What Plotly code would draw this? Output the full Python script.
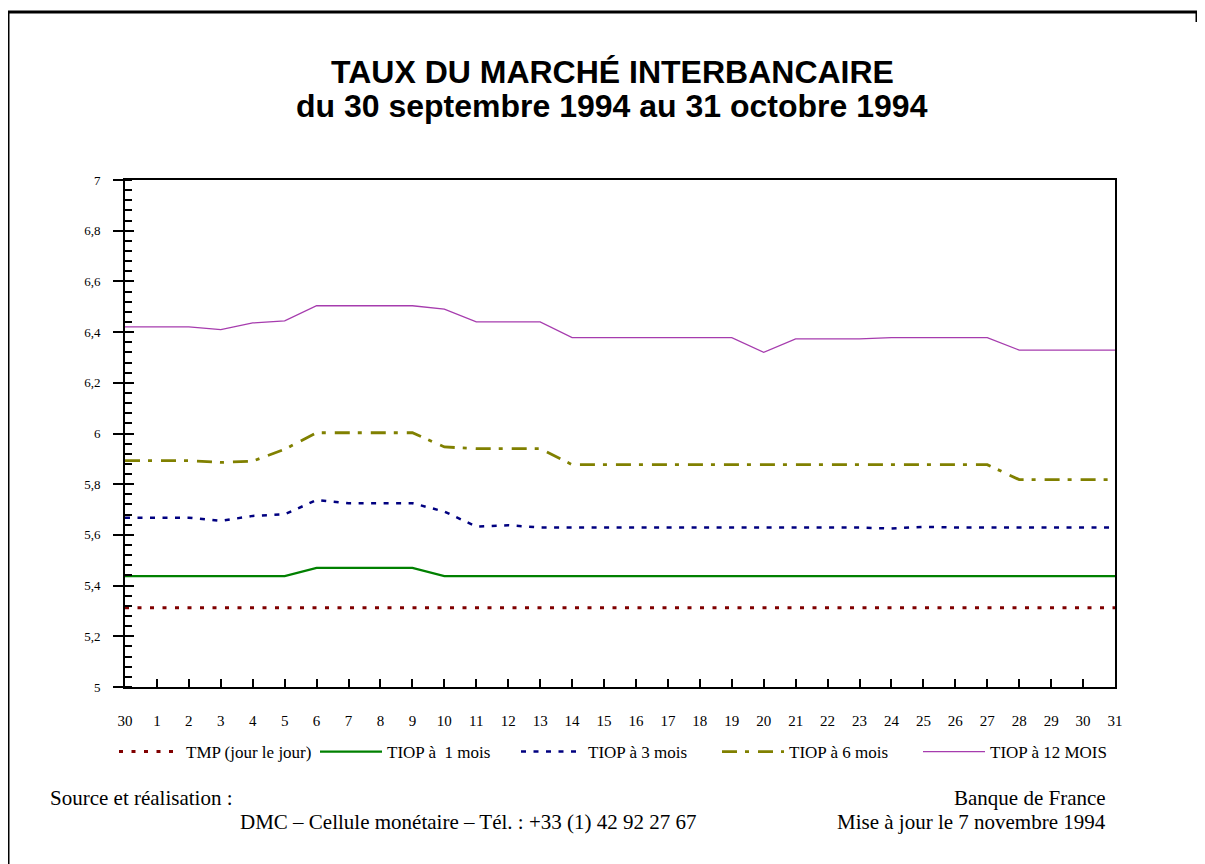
import plotly.graph_objects as go

# ---------------- data ----------------
day_labels = ["30", "1", "2", "3", "4", "5", "6", "7", "8", "9", "10", "11", "12", "13", "14", "15",
              "16", "17", "18", "19", "20", "21", "22", "23", "24", "25", "26", "27", "28", "29", "30", "31"]

tmp_jj = [5.3125, 5.3125, 5.3125, 5.3125, 5.3125, 5.3125, 5.3125, 5.3125, 5.3125, 5.3125, 5.3125,
          5.3125, 5.3125, 5.3125, 5.3125, 5.3125, 5.3125, 5.3125, 5.3125, 5.3125, 5.3125, 5.3125,
          5.3125, 5.3125, 5.3125, 5.3125, 5.3125, 5.3125, 5.3125, 5.3125, 5.3125, 5.3125]

tiop_1m = [5.4375, 5.4375, 5.4375, 5.4375, 5.4375, 5.4375, 5.47, 5.47, 5.47, 5.47, 5.4375,
           5.4375, 5.4375, 5.4375, 5.4375, 5.4375, 5.4375, 5.4375, 5.4375, 5.4375, 5.4375, 5.4375,
           5.4375, 5.4375, 5.4375, 5.4375, 5.4375, 5.4375, 5.4375, 5.4375, 5.4375, 5.4375]

tiop_3m = [5.668, 5.668, 5.668, 5.655, 5.675, 5.681, 5.738, 5.725, 5.725, 5.725, 5.692,
           5.633, 5.638, 5.629, 5.629, 5.629, 5.629, 5.629, 5.629, 5.629, 5.629, 5.629,
           5.629, 5.629, 5.625, 5.632, 5.629, 5.629, 5.629, 5.629, 5.629, 5.629]

tiop_6m = [5.893, 5.893, 5.893, 5.886, 5.891, 5.938, 6.003, 6.003, 6.003, 6.003, 5.947,
           5.94, 5.94, 5.94, 5.877, 5.877, 5.877, 5.877, 5.877, 5.877, 5.877, 5.877,
           5.877, 5.877, 5.877, 5.877, 5.877, 5.877, 5.818, 5.818, 5.818, 5.818]

tiop_12m = [6.421, 6.421, 6.421, 6.41, 6.436, 6.444, 6.504, 6.504, 6.504, 6.504, 6.491,
            6.44, 6.44, 6.44, 6.378, 6.378, 6.378, 6.378, 6.378, 6.378, 6.32, 6.373,
            6.373, 6.373, 6.378, 6.378, 6.378, 6.378, 6.329, 6.329, 6.329, 6.329]

series_names = ["TMP (jour le jour)", "TIOP à  1 mois", "TIOP à 3 mois", "TIOP à 6 mois", "TIOP à 12 MOIS"]

x_idx = list(range(len(day_labels)))

# ---------------- layout geometry ----------------
OFF = 8                      # page body margin in the browser
W, H = 1197, 856
# plot area in screen pixels
SL, SR, ST, SB = 125, 1115, 180, 687
PL, PR, PT, PB = SL - OFF, SR - OFF, ST - OFF, SB - OFF


def px(x):
    """screen x pixel -> paper coordinate"""
    return (x - SL) / (SR - SL)


def py(y):
    """screen y pixel -> paper coordinate"""
    return (SB - y) / (SB - ST)


SERIF = "Liberation Serif, Times New Roman, serif"
SANS = "Liberation Sans, Arial, sans-serif"

fig = go.Figure()

styles = [
    dict(color="#800000", width=3, dash="4px,8.5px"),
    dict(color="#008000", width=2.2, dash="solid"),
    dict(color="#000080", width=2.5, dash="5px,7.5px"),
    dict(color="#808000", width=2.8, dash="15px,8px,4px,9px"),
    dict(color="#a63cae", width=1.3, dash="solid"),
]
for name, ys, st in zip(series_names, [tmp_jj, tiop_1m, tiop_3m, tiop_6m, tiop_12m], styles):
    fig.add_trace(go.Scatter(x=x_idx, y=ys, mode="lines", name=name, line=st,
                             hoverinfo="x+y"))

# invisible trace on overlay axis for inner major ticks
fig.add_trace(go.Scatter(x=[0], y=[5], yaxis="y2", mode="markers", marker=dict(opacity=0),
                         showlegend=False, hoverinfo="skip"))

fig.update_layout(
    width=W, height=H,
    margin=dict(l=PL, r=W - PR, t=PT, b=H - PB, pad=0),
    paper_bgcolor="white", plot_bgcolor="white",
    separators=", ",
    showlegend=True,
    legend=dict(orientation="h", x=px(114), xanchor="left", y=py(752), yanchor="middle",
                font=dict(family=SERIF, size=17, color="black"),
                entrywidth=124, entrywidthmode="pixels", itemwidth=62,
                bgcolor="rgba(0,0,0,0)", tracegroupgap=0, itemclick=False),
    xaxis=dict(range=[0, 31], tickmode="array", tickvals=x_idx, ticktext=day_labels,
               ticks="inside", ticklen=8, tickwidth=1.5, tickcolor="black",
               showline=True, linecolor="black", linewidth=2, mirror=True,
               showgrid=False, zeroline=False,
               tickfont=dict(family=SERIF, size=15, color="black"),
               ticklabelstandoff=19),
    yaxis=dict(range=[5, 7], dtick=0.2, tick0=5,
               ticks="outside", ticklen=10, tickwidth=2, tickcolor="black",
               showline=True, linecolor="black", linewidth=2, mirror=True,
               showgrid=False, zeroline=False,
               tickfont=dict(family=SERIF, size=13, color="black"),
               ticklabelstandoff=10,
               minor=dict(dtick=0.04, tick0=5, ticks="inside", ticklen=7, tickwidth=1.5,
                          tickcolor="black", showgrid=False)),
    yaxis2=dict(range=[5, 7], dtick=0.2, tick0=5, overlaying="y", side="left",
                ticks="inside", ticklen=9, tickwidth=2, tickcolor="black",
                showticklabels=False, showline=False, showgrid=False, zeroline=False),
)

# title
tfont = dict(family=SANS, size=32, color="black")
fig.add_annotation(text="<b>TAUX DU MARCHÉ INTERBANCAIRE</b>", xref="paper", yref="paper",
                   x=px(612), y=py(72), xanchor="center", yanchor="middle", showarrow=False, font=tfont)
fig.add_annotation(text="<b>du 30 septembre 1994 au 31 octobre 1994</b>", xref="paper", yref="paper",
                   x=px(612), y=py(106), xanchor="center", yanchor="middle", showarrow=False, font=tfont)

# footer
foot = dict(family=SERIF, size=21, color="black")
fig.add_annotation(text="Source et réalisation :", xref="paper", yref="paper",
                   x=px(48), y=py(798), xanchor="left", yanchor="middle", showarrow=False, font=foot)
fig.add_annotation(text="Banque de France", xref="paper", yref="paper",
                   x=px(1108), y=py(798), xanchor="right", yanchor="middle", showarrow=False, font=foot)
fig.add_annotation(text="DMC – Cellule monétaire – Tél. : +33 (1) 42 92 27 67", xref="paper", yref="paper",
                   x=px(238), y=py(822), xanchor="left", yanchor="middle", showarrow=False, font=foot)
fig.add_annotation(text="Mise à jour le 7 novembre 1994", xref="paper", yref="paper",
                   x=px(1108), y=py(822), xanchor="right", yanchor="middle", showarrow=False, font=foot)

# outer frame
frame = dict(color="black", width=3)
fig.add_shape(type="line", xref="paper", yref="paper", x0=px(8), x1=px(1197), y0=py(12), y1=py(12), line=frame)
fig.add_shape(type="line", xref="paper", yref="paper", x0=px(8), x1=px(8), y0=py(12), y1=py(866), line=frame)
fig.add_shape(type="line", xref="paper", yref="paper", x0=px(1197), x1=px(1197), y0=py(12), y1=py(22), line=frame)

fig.write_html("out.html")
